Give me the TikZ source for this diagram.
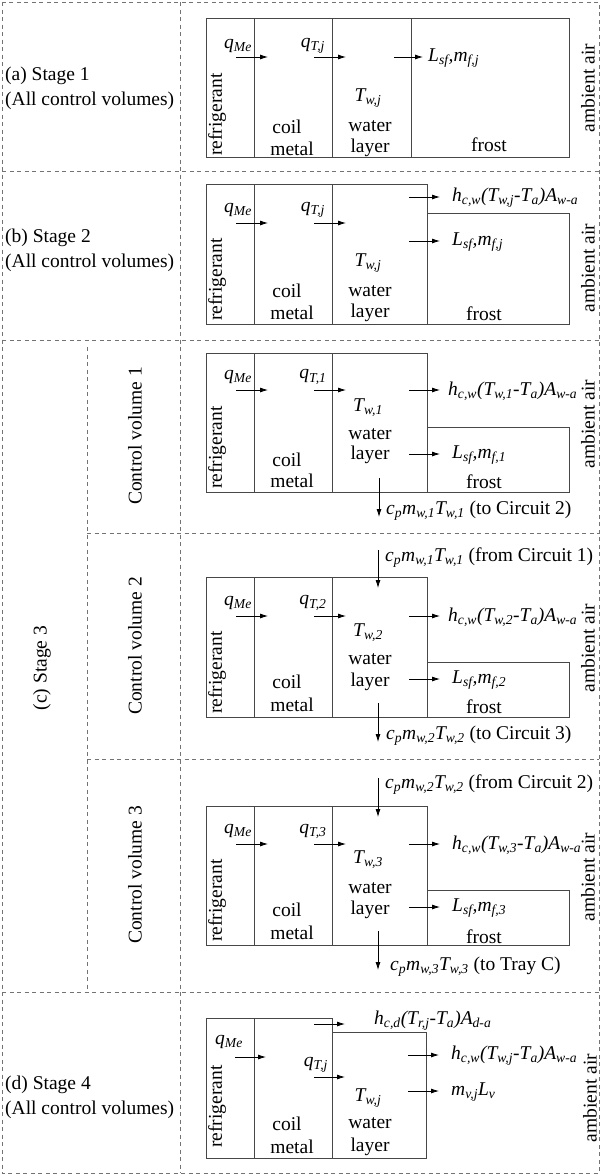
\documentclass[tikz,border=0pt]{standalone}
\usepackage{fontspec}
\setmainfont{Liberation Serif}
\usetikzlibrary{arrows.meta}
\tikzstyle{frameline}=[black!55, line width=0.8pt, dash pattern=on 4pt off 3.5pt]
\tikzstyle{wall}=[black!72, line width=1pt]
\tikzstyle{flux}=[black, line width=0.8pt, -{Latex[length=8pt,width=5pt]}]
\tikzstyle{txt}=[inner sep=0pt, font=\fontsize{19.5}{25}\selectfont]
\tikzstyle{sidelbl}=[txt, rotate=90]
\tikzstyle{refr}=[txt, rotate=90, anchor=west]
\tikzstyle{outlbl}=[txt, anchor=west]

\begin{document}
\begin{tikzpicture}[x=1pt, y=-1pt]
\useasboundingbox (0,0) rectangle (601,1175);
% dashed frame
\draw[frameline] (2,2) rectangle (599,1173);
\draw[frameline] (180,2) -- (180,1173);
\draw[frameline] (2,171) -- (599,171);
\draw[frameline] (2,340) -- (599,340);
\draw[frameline] (87,347) -- (87,992);
\draw[frameline] (87,533) -- (599,533);
\draw[frameline] (87,759) -- (599,759);
\draw[frameline] (2,992) -- (599,992);

% left labels
\node[outlbl, align=left] (st1) at (5,88) {(a) Stage 1\\(All control volumes)};
\node[outlbl, align=left] (st2) at (5,250) {(b) Stage 2\\(All control volumes)};
\node[sidelbl] (st3) at (42,668) {(c) Stage 3};
\node[sidelbl] (cv1) at (135,436) {Control volume 1};
\node[sidelbl] (cv2) at (135,646) {Control volume 2};
\node[sidelbl] (cv3) at (135,875) {Control volume 3};
\node[outlbl, align=left] (st4) at (5,1097) {(d) Stage 4\\(All control volumes)};

% stage 1
\draw[wall] (206,18) rectangle (569,157);
\draw[wall] (254,18) -- (254,157) (332,18) -- (332,157) (411,18) -- (411,157);
\node[refr] (ref1) at (217,156) {refrigerant};
\node[txt] (coil1) at (287,127) {coil};
\node[txt] (metal1) at (292,149) {metal};
\node[txt] (water1) at (370,126) {water};
\node[txt] (layer1) at (370,148) {layer};
\node[txt] (frost1) at (489,145) {frost};
\node[txt] (tw1) at (368,98) {\textit{T\textsubscript{w,j}}};
\node[txt] (qm1) at (238,46) {\textit{q\textsubscript{Me}}};
\node[txt] (qt1) at (313,46) {\textit{q\textsubscript{T,j}}};
\node[outlbl] (lf1) at (428,58) {\textit{L\textsubscript{sf},m\textsubscript{f,j}}};
\node[sidelbl] (air1) at (588,88) {ambient air};
\coordinate (m1) at (254,57);
\coordinate (t1) at (332,57);
\coordinate (f1) at (411,57);
\draw[flux] ([xshift=-18pt]m1) -- ([xshift=14pt]m1);
\draw[flux] ([xshift=-18pt]t1) -- ([xshift=14pt]t1);
\draw[flux] ([xshift=-17pt]f1) -- ([xshift=12pt]f1);

% stage 2
\draw[wall] (206,184) rectangle (427,324) (427,213) rectangle (569,324);
\draw[wall] (254,184) -- (254,324) (332,184) -- (332,324);
\node[refr] (ref2) at (217,321) {refrigerant};
\node[txt] (coil2) at (287,291) {coil};
\node[txt] (metal2) at (292,313) {metal};
\node[txt] (water2) at (370,291) {water};
\node[txt] (layer2) at (370,313) {layer};
\node[txt] (frost2) at (484,314) {frost};
\node[txt] (tw2) at (368,263) {\textit{T\textsubscript{w,j}}};
\node[txt] (qm2) at (238,210) {\textit{q\textsubscript{Me}}};
\node[txt] (qt2) at (313,210) {\textit{q\textsubscript{T,j}}};
\node[outlbl] (hw2) at (452,198) {\textit{h\textsubscript{c,w}(T\textsubscript{w,j}-T\textsubscript{a})A\textsubscript{w-a}}};
\node[outlbl] (lf2) at (452,242) {\textit{L\textsubscript{sf},m\textsubscript{f,j}}};
\node[sidelbl] (air2) at (588,268) {ambient air};
\coordinate (m2) at (254,223);
\coordinate (t2) at (332,223);
\coordinate (h2) at (427,197);
\coordinate (f2) at (427,241);
\draw[flux] ([xshift=-18pt]m2) -- ([xshift=14pt]m2);
\draw[flux] ([xshift=-18pt]t2) -- ([xshift=14pt]t2);
\draw[flux] ([xshift=-18pt]h2) -- ([xshift=13pt]h2);
\draw[flux] ([xshift=-18pt]f2) -- ([xshift=13pt]f2);

% stage 3, control volume 1
\draw[wall] (206,353) rectangle (427,492) (427,427) rectangle (569,492);
\draw[wall] (254,353) -- (254,492) (332,353) -- (332,492);
\node[refr] (ref3) at (217,489) {refrigerant};
\node[txt] (coil3) at (287,460) {coil};
\node[txt] (metal3) at (292,481) {metal};
\node[txt] (water3) at (370,434) {water};
\node[txt] (layer3) at (370,455) {layer};
\node[txt] (frost3) at (484,482) {frost};
\node[txt] (tw3) at (368,408) {\textit{T\textsubscript{w,1}}};
\node[txt] (qm3) at (238,377) {\textit{q\textsubscript{Me}}};
\node[txt] (qt3) at (313,377) {\textit{q\textsubscript{T,1}}};
\node[outlbl] (hw3) at (448,391) {\textit{h\textsubscript{c,w}(T\textsubscript{w,1}-T\textsubscript{a})A\textsubscript{w-a}}};
\node[outlbl] (lf3) at (452,455) {\textit{L\textsubscript{sf},m\textsubscript{f,1}}};
\node[outlbl] (dn3) at (386,511) {\textit{c\textsubscript{p}m\textsubscript{w,1}T\textsubscript{w,1}} (to Circuit 2)};
\node[sidelbl] (air3) at (588,424) {ambient air};
\coordinate (m3) at (254,390);
\coordinate (t3) at (332,390);
\coordinate (h3) at (427,390);
\coordinate (f3) at (427,454);
\coordinate (d3) at (379,492);
\draw[flux] ([xshift=-18pt]m3) -- ([xshift=14pt]m3);
\draw[flux] ([xshift=-18pt]t3) -- ([xshift=14pt]t3);
\draw[flux] ([xshift=-18pt]h3) -- ([xshift=13pt]h3);
\draw[flux] ([xshift=-18pt]f3) -- ([xshift=13pt]f3);
\draw[flux] ([yshift=14pt]d3) -- ([yshift=-25pt]d3);

% stage 3, control volume 2
\draw[wall] (206,577) rectangle (427,717) (427,662) rectangle (569,717);
\draw[wall] (254,577) -- (254,717) (332,577) -- (332,717);
\node[refr] (ref4) at (217,714) {refrigerant};
\node[txt] (coil4) at (287,682) {coil};
\node[txt] (metal4) at (292,705) {metal};
\node[txt] (water4) at (370,659) {water};
\node[txt] (layer4) at (370,682) {layer};
\node[txt] (frost4) at (484,707) {frost};
\node[txt] (tw4) at (368,633) {\textit{T\textsubscript{w,2}}};
\node[txt] (qm4) at (238,603) {\textit{q\textsubscript{Me}}};
\node[txt] (qt4) at (313,603) {\textit{q\textsubscript{T,2}}};
\node[outlbl] (hw4) at (448,617) {\textit{h\textsubscript{c,w}(T\textsubscript{w,2}-T\textsubscript{a})A\textsubscript{w-a}}};
\node[outlbl] (lf4) at (452,680) {\textit{L\textsubscript{sf},m\textsubscript{f,2}}};
\node[outlbl] (up4) at (385,558) {\textit{c\textsubscript{p}m\textsubscript{w,1}T\textsubscript{w,1}} (from Circuit 1)};
\node[outlbl] (dn4) at (386,736) {\textit{c\textsubscript{p}m\textsubscript{w,2}T\textsubscript{w,2}} (to Circuit 3)};
\node[sidelbl] (air4) at (588,648) {ambient air};
\coordinate (m4) at (254,616);
\coordinate (t4) at (332,616);
\coordinate (h4) at (427,616);
\coordinate (f4) at (427,679);
\coordinate (u4) at (378,577);
\coordinate (d4) at (378,717);
\draw[flux] ([xshift=-18pt]m4) -- ([xshift=14pt]m4);
\draw[flux] ([xshift=-18pt]t4) -- ([xshift=14pt]t4);
\draw[flux] ([xshift=-18pt]h4) -- ([xshift=13pt]h4);
\draw[flux] ([xshift=-18pt]f4) -- ([xshift=13pt]f4);
\draw[flux] ([yshift=27pt]u4) -- ([yshift=-11pt]u4);
\draw[flux] ([yshift=14pt]d4) -- ([yshift=-25pt]d4);

% stage 3, control volume 3
\draw[wall] (206,806) rectangle (427,945) (427,890) rectangle (569,945);
\draw[wall] (254,806) -- (254,945) (332,806) -- (332,945);
\node[refr] (ref5) at (217,942) {refrigerant};
\node[txt] (coil5) at (287,910) {coil};
\node[txt] (metal5) at (292,933) {metal};
\node[txt] (water5) at (370,888) {water};
\node[txt] (layer5) at (370,910) {layer};
\node[txt] (frost5) at (484,937) {frost};
\node[txt] (tw5) at (368,860) {\textit{T\textsubscript{w,3}}};
\node[txt] (qm5) at (238,831) {\textit{q\textsubscript{Me}}};
\node[txt] (qt5) at (313,831) {\textit{q\textsubscript{T,3}}};
\node[outlbl] (hw5) at (452,845) {\textit{h\textsubscript{c,w}(T\textsubscript{w,3}-T\textsubscript{a})A\textsubscript{w-a}}};
\node[outlbl] (lf5) at (452,908) {\textit{L\textsubscript{sf},m\textsubscript{f,3}}};
\node[outlbl] (up5) at (385,785) {\textit{c\textsubscript{p}m\textsubscript{w,2}T\textsubscript{w,2}} (from Circuit 2)};
\node[outlbl] (dn5) at (390,967) {\textit{c\textsubscript{p}m\textsubscript{w,3}T\textsubscript{w,3}} (to Tray C)};
\node[sidelbl] (air5) at (588,877) {ambient air};
\coordinate (m5) at (254,844);
\coordinate (t5) at (332,844);
\coordinate (h5) at (427,844);
\coordinate (f5) at (427,907);
\coordinate (u5) at (378,806);
\coordinate (d5) at (378,945);
\draw[flux] ([xshift=-18pt]m5) -- ([xshift=14pt]m5);
\draw[flux] ([xshift=-18pt]t5) -- ([xshift=14pt]t5);
\draw[flux] ([xshift=-18pt]h5) -- ([xshift=13pt]h5);
\draw[flux] ([xshift=-18pt]f5) -- ([xshift=13pt]f5);
\draw[flux] ([yshift=28pt]u5) -- ([yshift=-11pt]u5);
\draw[flux] ([yshift=14pt]d5) -- ([yshift=-25pt]d5);

% stage 4
\draw[wall] (206,1018) rectangle (332,1158) (332,1032) rectangle (426,1158);
\draw[wall] (254,1018) -- (254,1158);
\node[refr] (ref6) at (217,1148) {refrigerant};
\node[txt] (coil6) at (287,1124) {coil};
\node[txt] (metal6) at (292,1147) {metal};
\node[txt] (water6) at (370,1123) {water};
\node[txt] (layer6) at (370,1147) {layer};
\node[txt] (tw6) at (368,1098) {\textit{T\textsubscript{w,j}}};
\node[txt] (qm6) at (229,1042) {\textit{q\textsubscript{Me}}};
\node[txt] (qt6) at (316,1065) {\textit{q\textsubscript{T,j}}};
\node[outlbl] (hd6) at (374,1021) {\textit{h\textsubscript{c,d}(T\textsubscript{r,j}-T\textsubscript{a})A\textsubscript{d-a}}};
\node[outlbl] (hw6) at (451,1056) {\textit{h\textsubscript{c,w}(T\textsubscript{w,j}-T\textsubscript{a})A\textsubscript{w-a}}};
\node[outlbl] (mv6) at (451,1092) {\textit{m\textsubscript{v,j}L\textsubscript{v}}};
\node[sidelbl] (air6) at (590,1098) {ambient air};
\coordinate (m6) at (254,1057);
\coordinate (c6) at (332,1024);
\coordinate (t6) at (332,1077);
\coordinate (h6) at (426,1055);
\coordinate (v6) at (426,1091);
\draw[flux] ([xshift=-19pt]m6) -- ([xshift=12pt]m6);
\draw[flux] ([xshift=-18pt]c6) -- ([xshift=13pt]c6);
\draw[flux] ([xshift=-18pt]t6) -- ([xshift=13pt]t6);
\draw[flux] ([xshift=-18pt]h6) -- ([xshift=13pt]h6);
\draw[flux] ([xshift=-18pt]v6) -- ([xshift=13pt]v6);
\end{tikzpicture}
\end{document}
